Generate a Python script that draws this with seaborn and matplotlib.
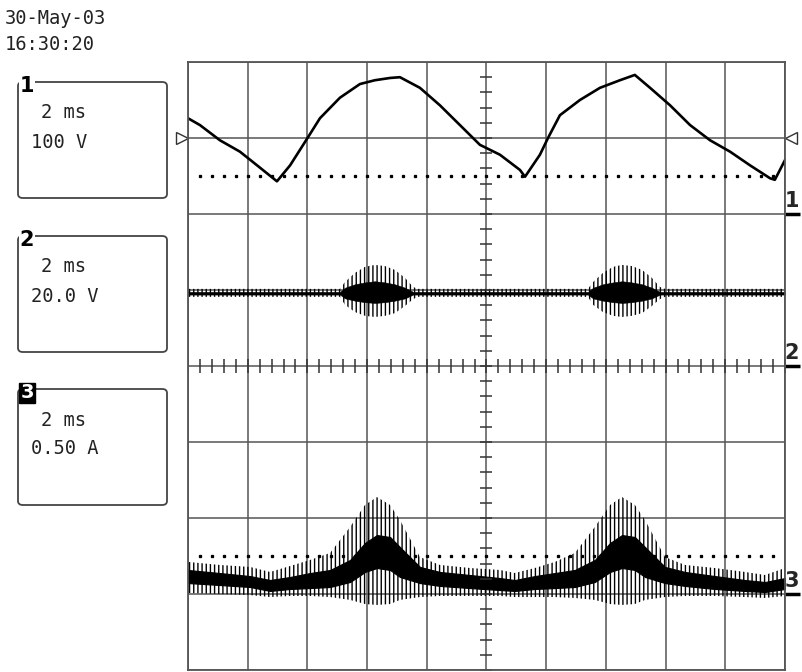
import numpy as np
import seaborn as sns
import matplotlib.pyplot as plt
from matplotlib.patches import FancyBboxPatch

sns.set_style("white")
plt.rcParams["hatch.linewidth"] = 1.0
plt.rcParams["hatch.color"] = "black"

W, H = 803, 672
MONO = "DejaVu Sans Mono"

# ---- channel 1 : 100 V/div, zero at +2 div ----
ch1_t = [0.00, 0.40, 1.07, 1.74, 2.41, 2.98, 3.42, 4.02, 4.42, 5.09, 5.76, 6.26, 6.77,
         7.10, 7.77, 8.44, 9.11, 9.78, 10.45, 11.12, 11.29, 11.79, 12.06, 12.46, 13.13,
         13.80, 14.47, 14.97, 15.48, 16.15, 16.82, 17.49, 18.16, 18.83, 19.50, 19.66, 20.00]
ch1_v = [126, 117, 97, 82, 61, 43, 64, 101, 126, 153, 171, 176, 179,
         180, 166, 143, 117, 91, 78, 58, 49, 78, 100, 130,
         150, 166, 176, 183, 166, 143, 117, 97, 82, 64, 47, 45, 71]

# ---- channel 2 : 20 V/div, zero at 0 div (envelopes) ----
ch2_t = [0.00, 5.09, 5.26, 5.59, 5.93, 6.26, 6.60, 6.93, 7.27, 7.54, 7.71,
         13.40, 13.57, 13.90, 14.24, 14.54, 14.87, 15.21, 15.54, 15.81, 15.98, 20.00]
ch2_spike_top = [20.3, 20.3, 22.1, 24.5, 26.1, 26.6, 26.3, 25.3, 23.2, 20.8, 20.3,
                 20.3, 22.1, 24.5, 26.1, 26.6, 26.3, 25.3, 23.2, 20.8, 20.3, 20.3]
ch2_spike_bot = [18.2, 18.2, 16.1, 14.2, 13.2, 12.9, 13.2, 13.9, 15.8, 17.6, 18.2,
                 18.2, 16.1, 14.2, 13.2, 12.9, 13.2, 13.9, 15.8, 17.6, 18.2, 18.2]
ch2_band_top = [19.5, 19.5, 20.6, 21.5, 22.0, 22.3, 22.0, 21.5, 20.6, 19.5, 19.5,
                19.5, 20.6, 21.5, 22.0, 22.3, 22.0, 21.5, 20.6, 19.5, 19.5, 19.5]
ch2_band_bot = [18.8, 18.8, 17.8, 17.2, 16.8, 16.6, 16.8, 17.2, 17.8, 18.8, 18.8,
                18.8, 17.8, 17.2, 16.8, 16.6, 16.8, 17.2, 17.8, 18.8, 18.8, 18.8]

# ---- channel 3 : 0.5 A/div, zero at -3 div (envelopes) ----
ch3_t = [0.00, 1.07, 2.08, 2.75, 3.42, 4.09, 4.76, 5.43, 5.93, 6.33, 6.77, 7.10, 7.77,
         8.44, 9.45, 10.45, 10.95, 11.62, 12.29, 12.96, 13.63, 14.14, 14.54, 14.97,
         15.31, 15.98, 16.65, 17.65, 18.66, 19.33, 20.00]
ch3_spike_top = [0.211, 0.191, 0.178, 0.145, 0.184, 0.224, 0.270, 0.441, 0.586, 0.638, 0.586,
                 0.487, 0.243, 0.191, 0.171, 0.158, 0.138, 0.171, 0.211, 0.270, 0.441,
                 0.586, 0.638, 0.586, 0.487, 0.243, 0.191, 0.171, 0.145, 0.125, 0.171]
ch3_band_top = [0.158, 0.138, 0.118, 0.092, 0.112, 0.138, 0.158, 0.224, 0.336, 0.388, 0.375,
                0.309, 0.178, 0.145, 0.125, 0.105, 0.092, 0.118, 0.138, 0.158, 0.224,
                0.336, 0.388, 0.375, 0.309, 0.178, 0.145, 0.118, 0.092, 0.079, 0.105]
ch3_band_bot = [0.072, 0.059, 0.046, 0.020, 0.033, 0.039, 0.046, 0.079, 0.145, 0.171, 0.158,
                0.112, 0.072, 0.053, 0.039, 0.026, 0.020, 0.033, 0.039, 0.046, 0.079,
                0.145, 0.171, 0.158, 0.112, 0.072, 0.053, 0.033, 0.020, 0.013, 0.033]
ch3_spike_bot = [0.007, 0.000, -0.007, -0.020, -0.013, -0.013, -0.020, -0.039, -0.066, -0.072,
                 -0.066, -0.039, -0.020, -0.013, -0.013, -0.013, -0.020, -0.020, -0.020,
                 -0.026, -0.039, -0.066, -0.072, -0.066, -0.039, -0.020, -0.013, -0.013,
                 -0.020, -0.026, -0.013]

info_date = ["30-May-03", "16:30:20"]
box_labels = ["1", "2", "3"]
box_lines = [["2 ms", "100 V"], ["2 ms", "20.0 V"], ["2 ms", "0.50 A"]]

# scale (units per div) and zero offset (div) for each channel
CH1_SCALE, CH1_ZERO = 100.0, 2.0
CH2_SCALE, CH2_ZERO = 20.0, 0.0
CH3_SCALE, CH3_ZERO = 0.5, -3.0


def div(vals, scale, zero):
    return np.asarray(vals, dtype=float) / scale + zero


def fx(x):
    return x / W


def fy(y):
    return 1 - y / H


fig = plt.figure(figsize=(W / 100, H / 100), dpi=100)
fig.patch.set_facecolor("white")
ax = fig.add_axes([fx(188), fy(670), (785 - 188) / W, (670 - 62) / H])
ax.set_xlim(0, 20)
ax.set_ylim(-4, 4)
ax.set_xticks(np.arange(0, 21, 2))
ax.set_yticks(np.arange(-4, 5, 1))
ax.tick_params(length=0, labelbottom=False, labelleft=False)
ax.grid(True, color="#555555", lw=1.1)
for s in ax.spines.values():
    s.set_color("#555555")
    s.set_linewidth(1.3)
ax.set_xlabel("")
ax.set_ylabel("")

# center cross minor ticks
xm = np.arange(0, 20.01, 0.4)
ax.plot(xm, np.zeros_like(xm), ls="none", marker="|", ms=9.5, mew=1.1, color="#333333")
ym = np.arange(-4, 4.01, 0.2)
ax.plot(np.full_like(ym, 10.0), ym, ls="none", marker="_", ms=8, mew=1.1, color="#333333")

# dotted reference lines
xd = np.arange(0.4, 20, 0.4)
for yv in (CH1_ZERO + 0.5, CH3_ZERO + 0.5):
    ax.plot(xd, np.full_like(xd, yv), ls="none", marker="s", ms=1.4, color="black")

# channel 1 trace
sns.lineplot(x=ch1_t, y=div(ch1_v, CH1_SCALE, CH1_ZERO), ax=ax, color="black",
             lw=1.9, estimator=None, sort=False)

# channel 2 bursts
ax.fill_between(ch2_t, div(ch2_spike_bot, CH2_SCALE, CH2_ZERO), div(ch2_spike_top, CH2_SCALE, CH2_ZERO),
                facecolor="none", edgecolor="black", hatch="||||", linewidth=0)
ax.fill_between(ch2_t, div(ch2_band_bot, CH2_SCALE, CH2_ZERO), div(ch2_band_top, CH2_SCALE, CH2_ZERO),
                color="black", linewidth=0.4)

# channel 3 bursts
ax.fill_between(ch3_t, div(ch3_spike_bot, CH3_SCALE, CH3_ZERO), div(ch3_spike_top, CH3_SCALE, CH3_ZERO),
                facecolor="none", edgecolor="black", hatch="||||", linewidth=0)
ax.fill_between(ch3_t, div(ch3_band_bot, CH3_SCALE, CH3_ZERO), div(ch3_band_top, CH3_SCALE, CH3_ZERO),
                color="black", linewidth=0.8)

# trigger level triangles
ax.plot([-0.2], [3.0], marker=">", ms=8, mfc="white", mec="#333333", mew=1, clip_on=False)
ax.plot([20.2], [3.0], marker="<", ms=8, mfc="white", mec="#333333", mew=1, clip_on=False)

# channel zero markers on the right
for lab, zero in zip(box_labels, (CH1_ZERO, CH2_ZERO, CH3_ZERO)):
    ax.plot([20.0, 20.5], [zero, zero], color="black", lw=2.5, clip_on=False, solid_capstyle="butt")
    ax.text(20.22, zero + 0.04, lab, ha="center", va="bottom", fontsize=15,
            fontweight="bold", family="DejaVu Sans", clip_on=False)

# date / time
fig.text(fx(5), fy(18), info_date[0], fontsize=13.5, family=MONO, va="center", color="#222222")
fig.text(fx(5), fy(45), info_date[1], fontsize=13.5, family=MONO, va="center", color="#222222")

# channel info boxes
box_tops = [82, 236, 389]
for i, top in enumerate(box_tops):
    box = FancyBboxPatch((fx(18), fy(top + 116)), (167 - 18) / W, 116 / H,
                         boxstyle="round,pad=0,rounding_size=0.006",
                         transform=fig.transFigure, facecolor="white",
                         edgecolor="#444444", lw=1.3)
    fig.patches.append(box)
    if i == 2:
        fig.text(fx(27), fy(top + 4), box_labels[i], fontsize=14, fontweight="bold",
                 family="DejaVu Sans", color="white", ha="center", va="center",
                 bbox=dict(facecolor="black", edgecolor="black", pad=0.5))
    else:
        fig.text(fx(27), fy(top + 4), box_labels[i], fontsize=15, fontweight="bold",
                 family="DejaVu Sans", color="black", ha="center", va="center",
                 bbox=dict(facecolor="white", edgecolor="none", pad=0.5))
    fig.text(fx(41), fy(top + 31), box_lines[i][0], fontsize=13.5, family=MONO,
             va="center", color="#222222")
    fig.text(fx(31), fy(top + 60), box_lines[i][1], fontsize=13.5, family=MONO,
             va="center", color="#222222")

fig.savefig("out.png", dpi=100, facecolor="white")
